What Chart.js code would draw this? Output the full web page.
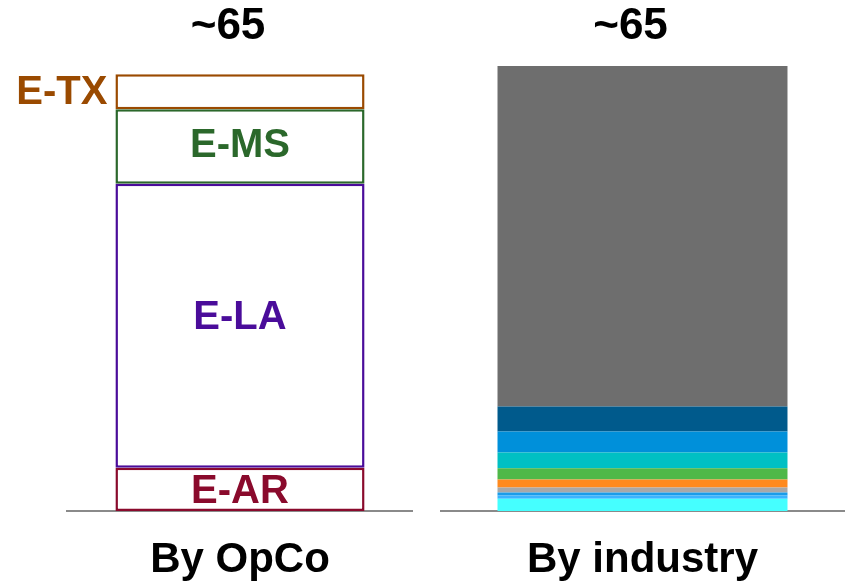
<!DOCTYPE html>
<html>
<head>
<meta charset="utf-8">
<script src="https://cdn.jsdelivr.net/npm/chart.js@4.4.1/dist/chart.umd.min.js"></script>
<style>
  html, body { margin: 0; padding: 0; background: #ffffff; }
  body { width: 856px; height: 585px; position: relative; overflow: hidden; }
  .panel { position: absolute; top: 0; height: 585px; }
  #opcoPanel { left: 0px; width: 413px; }
  #industryPanel { left: 440px; width: 405px; }
</style>
</head>
<body>
<div class="panel" id="opcoPanel"><canvas id="opcoChart"></canvas></div>
<div class="panel" id="industryPanel"><canvas id="industryChart"></canvas></div>
<script>
// Category captions under each column
const opcoCategory = ['By OpCo'];
const industryCategory = ['By industry'];

// Totals printed above each column
const totalLabels = ['~65', '~65'];

// Left column: operating companies, bottom to top
const opcoNames = ['E-AR', 'E-LA', 'E-MS', 'E-TX'];
const opcoValues = [6.3, 41.5, 10.9, 5.1];
const opcoColors = ['#8a0a2c', '#4a0c9a', '#2b682b', '#9a4a00'];

// Right column: industry split, bottom to top
const industryValues = [1.8, 0.45, 0.45, 0.75, 1.15, 1.65, 2.3, 3.05, 3.65, 49.75];
const industryColors = ['#45ffff', '#3ab4ff', '#1a9ce8', '#a8a8a8', '#ff8a1f',
                        '#4fb848', '#00c0c3', '#0090da', '#005a8c', '#6e6e6e'];

const yMax = 65;
const FONT = '"Liberation Sans", Arial, sans-serif';

// Draws the total above the column and, for the OpCo column, each segment's name
const labelPlugin = {
  id: 'columnLabels',
  afterDatasetsDraw(chart, args, opts) {
    const ctx = chart.ctx;
    const n = chart.data.datasets.length;
    const topBar = chart.getDatasetMeta(n - 1).data[0];
    ctx.save();
    ctx.textAlign = 'center';
    ctx.textBaseline = 'middle';
    ctx.fillStyle = '#000000';
    ctx.font = 'bold 44px ' + FONT;
    ctx.fillText(opts.total, topBar.x - 12, 27);

    if (opts.segmentNames) {
      ctx.font = 'bold 40px ' + FONT;
      chart.data.datasets.forEach((ds, i) => {
        const bar = chart.getDatasetMeta(i).data[0];
        const mid = (bar.y + bar.base) / 2;
        ctx.fillStyle = ds.borderColor;
        if (opts.outside[i]) {
          ctx.textAlign = 'right';
          ctx.fillText(ds.label, bar.x - bar.width / 2 - 8, mid + 1);
        } else {
          ctx.textAlign = 'center';
          ctx.fillText(ds.label, bar.x, mid + opts.shift[i]);
        }
      });
    }
    ctx.restore();
  }
};

function baseOptions(leftPad, pluginOpts) {
  return {
    responsive: true,
    maintainAspectRatio: false,
    animation: false,
    layout: { padding: { top: 66, left: leftPad, right: 0, bottom: 0 } },
    plugins: {
      legend: { display: false },
      tooltip: { enabled: false },
      columnLabels: pluginOpts
    },
    scales: {
      x: {
        stacked: true,
        grid: { display: false, drawTicks: false },
        border: { display: true, color: '#8a8a8a', width: 2 },
        ticks: {
          color: '#000000',
          padding: 24,
          font: { family: FONT, size: 42, weight: 'bold' }
        },
        afterFit(axis) { axis.height = 74; }
      },
      y: {
        stacked: true,
        display: false,
        min: 0,
        max: yMax
      }
    }
  };
}

new Chart(document.getElementById('opcoChart'), {
  type: 'bar',
  data: {
    labels: opcoCategory,
    datasets: opcoNames.map((name, i) => ({
      label: name,
      data: [opcoValues[i]],
      backgroundColor: '#ffffff',
      borderColor: opcoColors[i],
      borderWidth: 2.5,
      borderSkipped: false,
      categoryPercentage: 1,
      barPercentage: 0.72
    }))
  },
  options: baseOptions(67, {
    total: totalLabels[0],
    segmentNames: true,
    outside: [false, false, false, true],
    shift: [3, -8, 0, 0]
  }),
  plugins: [labelPlugin]
});

new Chart(document.getElementById('industryChart'), {
  type: 'bar',
  data: {
    labels: industryCategory,
    datasets: industryValues.map((v, i) => ({
      data: [v],
      backgroundColor: industryColors[i],
      borderWidth: 0,
      categoryPercentage: 1,
      barPercentage: 0.716
    }))
  },
  options: baseOptions(0, {
    total: totalLabels[1],
    segmentNames: false
  }),
  plugins: [labelPlugin]
});
</script>
</body>
</html>
